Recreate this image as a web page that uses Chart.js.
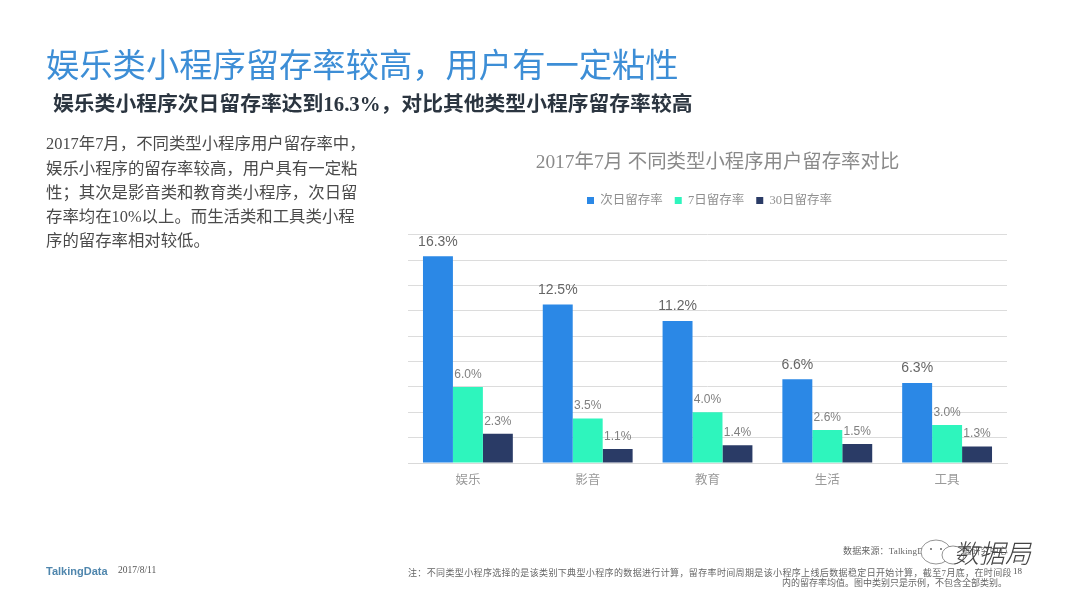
<!DOCTYPE html>
<html lang="zh"><head><meta charset="utf-8">
<style>
html,body{margin:0;padding:0;background:#fff;width:1066px;height:599px;overflow:hidden}
#c{position:absolute;left:0;top:0}
.t{position:absolute;white-space:nowrap;font-family:"Liberation Serif","Noto Sans CJK SC",serif;line-height:1;transform:translateY(-50%)}
</style></head><body>
<canvas id="c" width="1066" height="599"></canvas>
<div class="t" style="left:46px;top:63px;font-size:33.3px;color:#3d8ed6;font-family:'Noto Sans CJK SC',sans-serif">娱乐类小程序留存率较高，用户有一定粘性</div>
<div class="t" style="left:53px;top:104px;font-size:20.8px;font-weight:700;color:#2b3540">娱乐类小程序次日留存率达到16.3%，对比其他类型小程序留存率较高</div>
<div class="t" style="left:46px;top:144px;font-size:16.4px;color:#4a4a4a">2017年7月，不同类型小程序用户留存率中，</div>
<div class="t" style="left:46px;top:169px;font-size:16.4px;color:#4a4a4a">娱乐小程序的留存率较高，用户具有一定粘</div>
<div class="t" style="left:46px;top:193px;font-size:16.4px;color:#4a4a4a">性；其次是影音类和教育类小程序，次日留</div>
<div class="t" style="left:46px;top:217px;font-size:16.4px;color:#4a4a4a">存率均在10%以上。而生活类和工具类小程</div>
<div class="t" style="left:46px;top:241px;font-size:16.4px;color:#4a4a4a">序的留存率相对较低。</div>
<div class="t" style="left:46px;top:571px;font-size:11px;font-weight:700;color:#4f86ad;font-family:'Liberation Sans',sans-serif">TalkingData</div>
<div class="t" style="left:118px;top:571px;font-size:9.5px;color:#555">2017/8/11</div>
<div class="t" style="left:843px;top:551px;font-size:9px;letter-spacing:0.15px;color:#666">数据来源：TalkingData移动数据研究中心</div>
<div class="t" style="left:408px;top:573px;font-size:9px;letter-spacing:0.36px;color:#666">注：不同类型小程序选择的是该类别下典型小程序的数据进行计算，留存率时间周期是该小程序上线后数据稳定日开始计算，截至7月底，在时间段</div>
<div class="t" style="right:59px;top:583px;font-size:9px;color:#666">内的留存率均值。图中类别只是示例，不包含全部类别。</div>
<div class="t" style="left:1013px;top:571px;font-size:9px;color:#555">18</div>
<svg style="position:absolute;left:915px;top:535px" width="60" height="35" viewBox="0 0 60 35">
<ellipse cx="21" cy="17" rx="15" ry="12" fill="#fff" stroke="#666" stroke-width="0.7"/>
<ellipse cx="38" cy="20" rx="11" ry="9" fill="#fff" stroke="#666" stroke-width="0.7"/>
<circle cx="16" cy="14" r="0.9" fill="#555"/><circle cx="26" cy="14" r="0.9" fill="#555"/>
</svg>
<div class="t" style="left:953px;top:552px;font-size:26px;color:#444;font-style:italic;font-family:'Noto Sans CJK SC',sans-serif;font-weight:300">数据局</div>
<script src="https://cdn.jsdelivr.net/npm/chart.js@4"></script>
<script>
const categories = ["娱乐","影音","教育","生活","工具"];
const seriesNames = ["次日留存率","7日留存率","30日留存率"];
const nextDay = [16.3,12.5,11.2,6.6,6.3];
const day7 = [6.0,3.5,4.0,2.6,3.0];
const day30 = [2.3,1.1,1.4,1.5,1.3];
const colors = ["#2b88e6","#2ef5bd","#2a3b66"];
const cjk = '"Liberation Serif","Noto Sans CJK SC",serif';

const valueLabels = {
  id:"valueLabels",
  afterDatasetsDraw(chart){
    const ctx = chart.ctx;
    ctx.save();
    ctx.textAlign = "center";
    ctx.textBaseline = "middle";
    chart.data.datasets.forEach((ds,i)=>{
      ctx.font = (i===0?14:12)+'px "Liberation Sans",sans-serif';
      ctx.fillStyle = i===0?"#666666":"#808080";
      chart.getDatasetMeta(i).data.forEach((bar,j)=>{
        ctx.fillText(ds.data[j].toFixed(1)+"%", bar.x, bar.y-(i===0?14.5:12.5));
      });
    });
    ctx.restore();
  }
};
const shiftBoxes = {
  id:"shiftBoxes",
  afterLayout(chart){
    const t = chart.titleBlock, l = chart.legend;
    t.left += 10; t.right += 10;
    l.left += 2; l.right += 2;
    l.top -= 18; l.bottom -= 18;
  }
};

new Chart(document.getElementById("c"),{
  type:"bar",
  data:{labels:categories,datasets:[
    {label:seriesNames[0],data:nextDay,backgroundColor:colors[0]},
    {label:seriesNames[1],data:day7,backgroundColor:colors[1]},
    {label:seriesNames[2],data:day30,backgroundColor:colors[2]}
  ]},
  plugins:[valueLabels,shiftBoxes],
  options:{
    responsive:false,animation:false,
    layout:{padding:{left:408,right:59,top:151,bottom:109}},
    datasets:{bar:{barPercentage:1,categoryPercentage:0.75}},
    plugins:{
      title:{display:true,text:"2017年7月 不同类型小程序用户留存率对比",color:"#8a8a8a",font:{family:cjk,size:19.4,weight:"normal"},padding:{top:0,bottom:26}},
      legend:{display:true,position:"top",labels:{boxWidth:7,boxHeight:7,padding:12,color:"#8f8f8f",font:{family:cjk,size:12.5}}},
      tooltip:{enabled:false}
    },
    scales:{
      x:{grid:{display:false},border:{color:"#d9d9d9"},ticks:{color:"#9a9a9a",padding:2,font:{family:cjk,size:12.5}}},
      y:{min:0,max:18,ticks:{display:false,stepSize:2},grid:{color:"#dcdcdc",drawTicks:false},border:{display:false}}
    }
  }
});
</script>
</body></html>
